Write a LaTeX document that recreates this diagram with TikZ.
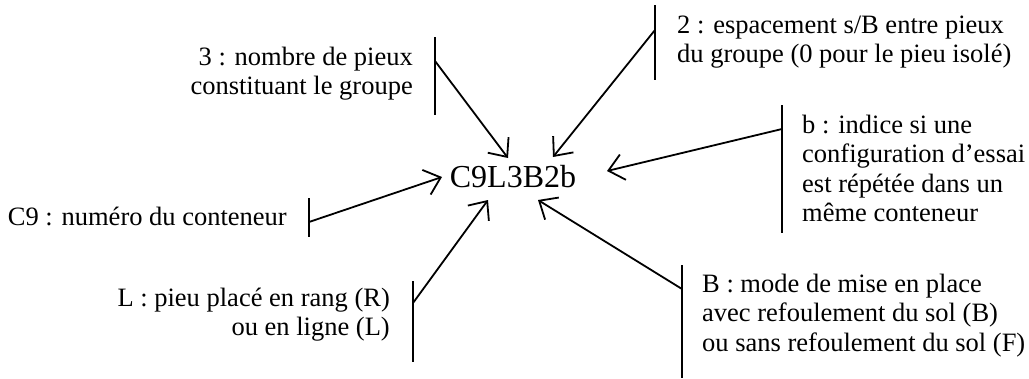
\documentclass[tikz,border=0pt]{standalone}
\usepackage{fontspec}
\setmainfont{Liberation Serif}
\usetikzlibrary{arrows.meta}
\begin{document}
\begin{tikzpicture}[x=1pt,y=-1pt,
  lbl/.style={inner sep=0pt,font=\fontsize{26.5}{29.5}\selectfont},
  lblr/.style={lbl,align=right,anchor=base east},
  lbll/.style={lbl,align=left,anchor=base west},
  bar/.style={line width=1.8pt},
  conn/.style={line width=1.8pt,-{Straight Barb[length=15pt,width=26pt]}}]
\useasboundingbox (0,0) rectangle (1029,378);
% central code
\node[inner sep=0pt,anchor=base,font=\fontsize{32}{36}\selectfont] (c) at (513,187) {C9L3B2b};
% labels (anchor = baseline of the last line)
\node[lblr] (t3) at (413,94.5) {3 : nombre de pieux\\constituant le groupe};
\node[lbll] (t2) at (677,62.5) {2 : espacement s/B entre pieux\\du groupe (0 pour le pieu isolé)};
\node[lbll] (tb) at (802,221.5) {b : indice si une\\configuration d’essai\\est répétée dans un\\même conteneur};
\node[lblr] (tc) at (287,225) {C9 : numéro du conteneur};
\node[lblr] (tl) at (390,335.5) {L : pieu placé en rang (R)\\ou en ligne (L)};
\node[lbll] (tB) at (702,351) {B : mode de mise en place\\avec refoulement du sol (B)\\ou sans refoulement du sol (F)};
% bars
\coordinate (b3a) at (435,37);  \coordinate (b3b) at (435,115); \coordinate (j3) at (435,61);
\coordinate (b2a) at (655,5);   \coordinate (b2b) at (655,80);  \coordinate (j2) at (655,30);
\coordinate (bba) at (782,105); \coordinate (bbb) at (782,233); \coordinate (jb) at (782,129);
\coordinate (bca) at (309,198); \coordinate (bcb) at (309,237); \coordinate (jc) at (309,222);
\coordinate (bla) at (413,281); \coordinate (blb) at (413,362); \coordinate (jl) at (413,303);
\coordinate (bBa) at (682,265); \coordinate (bBb) at (682,378); \coordinate (jB) at (682,289);
\foreach \n in {3,2,b,c,l,B} \draw[bar] (b\n a) -- (b\n b);
% arrow tips near the code
\coordinate (e3) at (508,158);
\coordinate (e2) at (553,157);
\coordinate (eb) at (607,171);
\coordinate (ec) at (442,177);
\coordinate (el) at (488,200);
\coordinate (eB) at (538,200);
\foreach \n in {3,2,b,c,l,B} \draw[conn] (j\n) -- (e\n);
\end{tikzpicture}
\end{document}
